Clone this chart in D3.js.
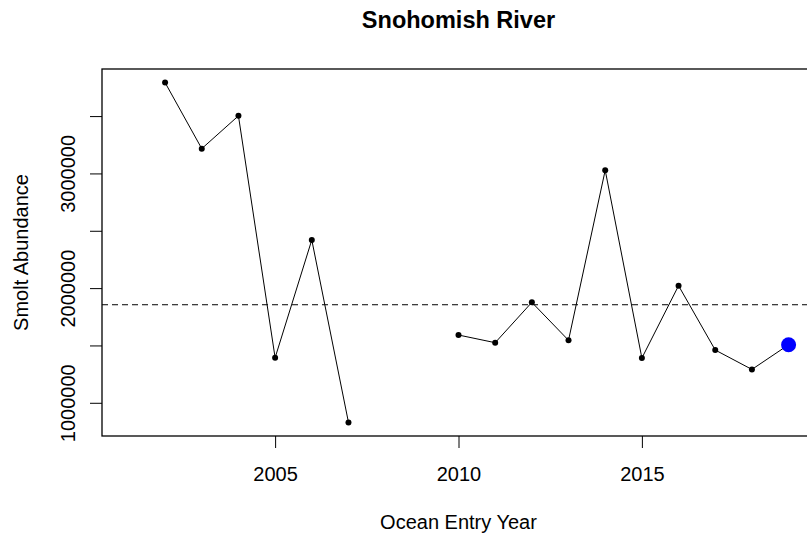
<!DOCTYPE html>
<html>
<head>
<meta charset="utf-8">
<script src="https://cdn.jsdelivr.net/npm/d3@7"></script>
<style>
  body { margin: 0; background: #fff; }
  text { font-family: "Liberation Sans", Arial, sans-serif; fill: #000; }
</style>
</head>
<body>
<div id="chart"></div>
<script>
// values (2008, 2009 missing)
const years = [2002, 2003, 2004, 2005, 2006, 2007, 2008, 2009, 2010, 2011,
               2012, 2013, 2014, 2015, 2016, 2017, 2018, 2019];
const abundance = [3792000, 3216000, 3502000, 1393000, 2420000, 829000, null, null, 1591000, 1524000,
                   1876000, 1545000, 3028000, 1390000, 2021000, 1460000, 1291000, 1506000];
const refLine = 1855000;            // dashed horizontal line
const currentYear = 2019;           // highlighted in blue
const xlim = [2001, 2019];
const xTicks = [2005, 2010, 2015];
const yTicks = [1000000, 1500000, 2000000, 2500000, 3000000, 3500000];
const yTickLabels = ["1000000", "", "2000000", "", "3000000", ""];

const W = 807, H = 533;
let margin = {top: 69, left: 102, bottom: 97},
    plotRight = 815;

const svg = d3.select("#chart")
  .append("svg")
    .attr("width", W)
    .attr("height", H);

svg.append("rect").attr("width", W).attr("height", H).attr("fill", "#fff");

// R style 4% padding on each side
const pad = (a, b) => [a - (b - a) * 0.04, b + (b - a) * 0.04];
const vals = abundance.filter(v => v != null);

let x = d3.scaleLinear()
    .domain(pad(xlim[0], xlim[1]))
    .range([margin.left, plotRight]);

let y = d3.scaleLinear()
    .domain(pad(d3.min(vals), d3.max(vals)))
    .range([H - margin.bottom, margin.top]);

const data = years.map((yr, i) => ({year: yr, value: abundance[i]}));

// dashed reference line
svg.append("line")
    .attr("x1", x.range()[0]).attr("x2", x.range()[1])
    .attr("y1", y(refLine)).attr("y2", y(refLine))
    .attr("stroke", "#000")
    .attr("stroke-width", 1)
    .attr("stroke-dasharray", "6,4");

const line = d3.line()
    .defined(d => d.value != null)
    .x(d => x(d.year))
    .y(d => y(d.value));

svg.append("path")
    .datum(data)
    .attr("fill", "none")
    .attr("stroke", "#000")
    .attr("stroke-width", 1)
    .attr("d", line);

svg.append("g")
  .selectAll("circle")
  .data(data.filter(d => d.value != null && d.year !== currentYear))
  .join("circle")
    .attr("cx", d => x(d.year))
    .attr("cy", d => y(d.value))
    .attr("r", 3)
    .attr("fill", "#000");

svg.append("g")
  .selectAll("circle")
  .data(data.filter(d => d.year === currentYear))
  .join("circle")
    .attr("cx", d => x(d.year))
    .attr("cy", d => y(d.value))
    .attr("r", 7.5)
    .attr("fill", "#0000ff");

// axes
let xAxis = g => g
    .attr("transform", `translate(0,${H - margin.bottom})`)
    .call(d3.axisBottom(x).tickValues(xTicks).tickFormat(d3.format("d")).tickSize(12))
    .call(g => g.select(".domain").remove())
    .call(g => g.selectAll("text")
        .attr("y", 45).attr("dy", 0)
        .attr("font-size", 20));

let yAxis = g => g
    .attr("transform", `translate(${margin.left},0)`)
    .call(d3.axisLeft(y).tickValues(yTicks).tickFormat((d, i) => yTickLabels[i]).tickSize(12))
    .call(g => g.select(".domain").remove())
    .call(g => g.selectAll("text")
        .attr("transform", "rotate(-90)")
        .attr("x", 0).attr("y", -27).attr("dy", 0)
        .attr("text-anchor", "middle")
        .attr("font-size", 20));

svg.append("g").call(xAxis);
svg.append("g").call(yAxis);
svg.selectAll(".tick line").attr("stroke", "#000");

// plot box
svg.append("rect")
    .attr("x", margin.left)
    .attr("y", margin.top)
    .attr("width", plotRight - margin.left)
    .attr("height", H - margin.bottom - margin.top)
    .attr("fill", "none")
    .attr("stroke", "#000")
    .attr("stroke-width", 1.3);

const cx = (margin.left + plotRight) / 2;

svg.append("text")
    .attr("x", cx).attr("y", 28)
    .attr("text-anchor", "middle")
    .attr("font-weight", "bold")
    .attr("font-size", 23.5)
    .text("Snohomish River");

svg.append("text")
    .attr("x", cx).attr("y", 529)
    .attr("text-anchor", "middle")
    .attr("font-size", 20)
    .text("Ocean Entry Year");

svg.append("text")
    .attr("transform", `translate(28,${(margin.top + H - margin.bottom) / 2}) rotate(-90)`)
    .attr("text-anchor", "middle")
    .attr("font-size", 20)
    .text("Smolt Abundance");
</script>
</body>
</html>
